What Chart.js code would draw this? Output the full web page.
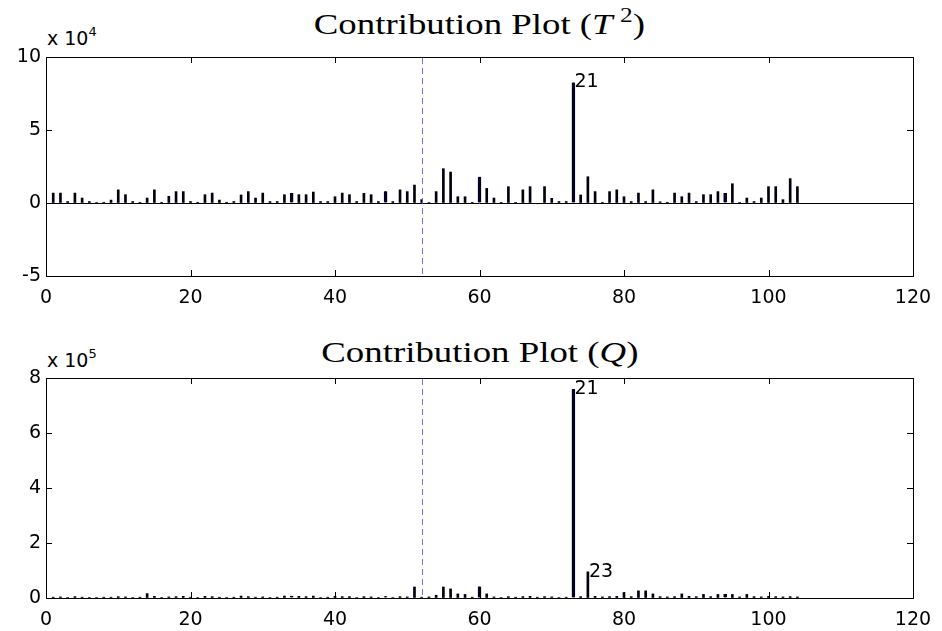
<!DOCTYPE html>
<html lang="en">
<head>
  <meta charset="UTF-8">
  <title>Contribution Plot</title>
  <script src="https://cdn.jsdelivr.net/npm/chart.js"></script>
  <style>
    body { margin: 0; background: #fff; }
    #wrap { position: relative; width: 942px; height: 631px; overflow: hidden; }
    canvas { position: absolute; left: 0; }
    #topchart { top: 0; }
    #botchart { top: 315px; }
    .title {
      position: absolute; left: 0; width: 959px; text-align: center;
      font-family: "Liberation Serif", "Times New Roman", serif; font-size: 29px; line-height: 30px;
    }
    .title span { display: inline-block; transform: scaleX(1.27); }
    .title sup { font-size: 20px; vertical-align: 12px; line-height: 0; }
    .expo {
      position: absolute; left: 47px;
      font-family: "DejaVu Sans", sans-serif; font-size: 19px; line-height: 19px;
    }
    .expo sup { font-size: 13px; vertical-align: 9px; line-height: 0; }
  </style>
</head>
<body>
<div id="wrap">
  <div class="title" style="top:9px"><span>Contribution Plot (<i>T</i>&#8201;<sup>2</sup>)</span></div>
  <div class="expo" style="top:29px">x 10<sup>4</sup></div>
  <canvas id="topchart" width="942" height="315"></canvas>

  <div class="title" style="top:337px"><span>Contribution Plot (<i>Q</i>)</span></div>
  <div class="expo" style="top:351px">x 10<sup>5</sup></div>
  <canvas id="botchart" width="942" height="316"></canvas>
</div>

<script>
  // T^2 contributions of variables 1..104 (units of 1e4)
  const t2Values = [
    0.68, 0.68, 0.10, 0.68, 0.34, 0.10, 0.04, 0.05, 0.20, 0.90,
    0.57, 0.10, 0.05, 0.34, 0.90, 0.05, 0.46, 0.78, 0.78, 0.10,
    0.05, 0.57, 0.68, 0.20, 0.05, 0.10, 0.55, 0.78, 0.34, 0.68,
    0.10, 0.10, 0.57, 0.68, 0.57, 0.57, 0.75, 0.10, 0.10, 0.43,
    0.68, 0.57, 0.10, 0.66, 0.57, 0.10, 0.80, 0.10, 0.90, 0.78,
    1.23, 0.23, 0.04, 0.78, 2.35, 2.12, 0.43, 0.43, 0.05, 1.80,
    1.00, 0.34, 0.02, 1.12, 0.02, 0.90, 1.12, -0.05, 1.12, 0.32,
    0.10, 0.10, 8.26, 0.55, 1.80, 0.78, 0.05, 0.78, 0.90, 0.43,
    0.10, 0.68, 0.10, 0.90, 0.08, 0.05, 0.68, 0.43, 0.68, 0.10,
    0.57, 0.57, 0.78, 0.68, 1.32, 0.04, 0.34, 0.10, 0.34, 1.12,
    1.12, 0.23, 1.67, 1.12
  ];

  // Q (SPE) contributions of variables 1..104 (units of 1e5)
  const qValues = [
    0.03, 0.04, 0.02, 0.05, 0.03, 0.02, 0.02, 0.03, 0.03, 0.05,
    0.04, 0.02, 0.03, 0.16, 0.06, 0.02, 0.04, 0.05, 0.06, 0.03,
    0.02, 0.06, 0.05, 0.03, 0.02, 0.03, 0.07, 0.05, 0.03, 0.04,
    0.02, 0.03, 0.07, 0.08, 0.06, 0.05, 0.07, 0.02, 0.03, 0.06,
    0.05, 0.05, 0.02, 0.05, 0.04, 0.02, 0.06, 0.02, 0.05, 0.04,
    0.40, 0.03, 0.04, 0.10, 0.40, 0.33, 0.15, 0.13, 0.03, 0.42,
    0.15, 0.04, 0.02, 0.05, 0.03, 0.05, 0.06, 0.03, 0.05, 0.04,
    0.02, 0.03, 7.60, 0.05, 0.95, 0.06, 0.04, 0.05, 0.06, 0.20,
    0.05, 0.26, 0.26, 0.15, 0.05, 0.04, 0.05, 0.15, 0.06, 0.05,
    0.13, 0.05, 0.13, 0.15, 0.13, 0.04, 0.13, 0.05, 0.04, 0.06,
    0.05, 0.04, 0.05, 0.04
  ];

  // variables rendered with the wider bar
  const wideBars = [34, 47, 60, 73, 94];
  // split point between variable blocks
  const splitAt = 52;
  const xTicks = { min: 0, max: 120, step: 20 };

  // bars that get their number written next to them: [variable, text]
  const t2Marks = [[73, '21']];
  const qMarks = [[73, '21'], [75, '23']];

  const tickFont = { family: 'DejaVu Sans', size: 19 };

  function toPoints(values, wide) {
    return values
      .map((v, i) => ({ x: i + 1, y: v }))
      .filter(p => wideBars.includes(p.x) === wide);
  }

  // box around the plot area with inward tick marks, MATLAB style
  const framePlugin = {
    id: 'frame',
    afterDatasetsDraw(chart, args, opts) {
      const { ctx, chartArea: a, scales } = chart;
      ctx.save();
      ctx.strokeStyle = '#000';
      ctx.lineWidth = 1;
      ctx.beginPath();
      scales.x.ticks.forEach(t => {
        const px = Math.round(scales.x.getPixelForValue(t.value)) + 0.5;
        ctx.moveTo(px, a.top); ctx.lineTo(px, a.top + 6);
        ctx.moveTo(px, a.bottom); ctx.lineTo(px, a.bottom - 6);
      });
      scales.y.ticks.forEach(t => {
        const py = Math.round(scales.y.getPixelForValue(t.value)) + 0.5;
        ctx.moveTo(a.left, py); ctx.lineTo(a.left + 6, py);
        ctx.moveTo(a.right, py); ctx.lineTo(a.right - 6, py);
      });
      ctx.stroke();
      ctx.strokeRect(Math.round(a.left) + 0.5, Math.round(a.top) + 0.5,
        Math.round(a.right - a.left), Math.round(a.bottom - a.top));

      // dashed separator
      const sx = Math.round(scales.x.getPixelForValue(splitAt)) + 0.5;
      ctx.strokeStyle = 'rgba(90, 90, 255, 0.85)';
      ctx.setLineDash([6, 4]);
      ctx.beginPath();
      ctx.moveTo(sx, a.top + 1);
      ctx.lineTo(sx, a.bottom);
      ctx.stroke();
      ctx.setLineDash([]);

      // bar annotations
      ctx.fillStyle = '#000';
      ctx.font = '19px "DejaVu Sans"';
      ctx.textAlign = 'left';
      ctx.textBaseline = 'middle';
      (opts.marks || []).forEach(([v, text]) => {
        const val = opts.values[v - 1];
        ctx.fillText(text, scales.x.getPixelForValue(v) + 1, scales.y.getPixelForValue(val));
      });
      ctx.restore();
    }
  };

  function makeChart(id, values, yRange, marks, padTop, xHeight) {
    return new Chart(document.getElementById(id), {
      type: 'bar',
      data: {
        datasets: [
          { data: toPoints(values, false), backgroundColor: '#000010', barThickness: 2, grouped: false },
          { data: toPoints(values, true), backgroundColor: '#000040', borderColor: '#000', borderWidth: { left: 1, right: 1 }, borderSkipped: false, barThickness: 3, grouped: false }
        ]
      },
      options: {
        responsive: false,
        animation: false,
        events: [],
        layout: { padding: { top: padTop, right: 29, left: 0, bottom: 0 } },
        plugins: {
          legend: { display: false },
          tooltip: { enabled: false },
          frame: { marks: marks, values: values }
        },
        scales: {
          x: {
            type: 'linear',
            offset: false,
            min: xTicks.min,
            max: xTicks.max,
            ticks: { stepSize: xTicks.step, color: '#000', font: tickFont, padding: 3, maxRotation: 0 },
            grid: { display: false, offset: false },
            border: { display: false },
            afterFit: s => { s.height = xHeight; }
          },
          y: {
            min: yRange.min,
            max: yRange.max,
            ticks: { stepSize: yRange.step, color: '#000', font: tickFont, padding: 5 },
            grid: {
              drawTicks: false,
              color: c => (c.tick && c.tick.value === 0 && yRange.min < 0) ? '#000' : 'rgba(0,0,0,0)'
            },
            border: { display: false },
            afterFit: s => { s.width = 46; }
          }
        }
      },
      plugins: [framePlugin]
    });
  }

  makeChart('topchart', t2Values, { min: -5, max: 10, step: 5 }, t2Marks, 57, 39);
  makeChart('botchart', qValues, { min: 0, max: 8, step: 2 }, qMarks, 63, 33);
</script>
</body>
</html>
